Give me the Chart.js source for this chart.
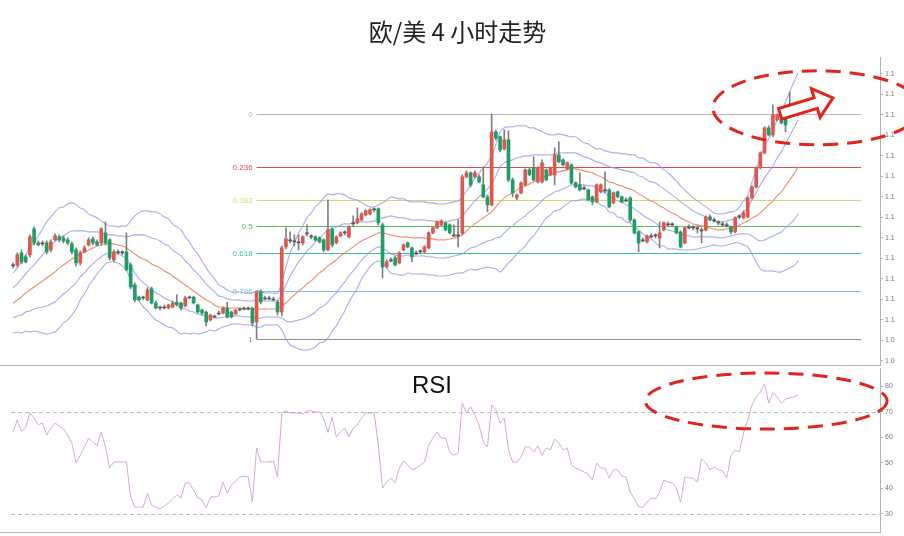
<!DOCTYPE html>
<html>
<head>
<meta charset="utf-8">
<script src="https://cdn.jsdelivr.net/npm/chart.js@4.4.1/dist/chart.umd.min.js"></script>
<style>
  html, body { margin: 0; padding: 0; background: #fff; }
  #wrap { position: relative; width: 904px; height: 536px; overflow: hidden; }
  #main { position: absolute; left: 0; top: 0; }
  #rsi { position: absolute; left: 0; top: 368px; }
</style>
</head>
<body>
<div id="wrap">
  <canvas id="main" width="904" height="368"></canvas>
  <canvas id="rsi" width="904" height="168"></canvas>
</div>
<script>
// --- data ---
const TITLE = '欧/美 4 小时走势';
const SLOT_COUNT = 207;   // 188 candles + empty room on the right

const opens = [
  1.0565,1.0566,1.0578,1.0574,1.0576,1.0602,1.0588,1.0588,1.0588,1.0581,
  1.0591,1.0594,1.0593,1.0591,1.0587,1.0581,1.0568,1.0579,1.0586,1.0592,
  1.0589,1.0588,1.0598,1.0591,1.0571,1.0579,1.0578,1.0579,1.0566,1.0546,
  1.0534,1.0534,1.0531,1.0542,1.0528,1.0523,1.0524,1.0523,1.0524,1.0529,
  1.0528,1.0525,1.0534,1.0534,1.0526,1.0521,1.0519,1.0511,1.0514,1.0518,
  1.0518,1.0523,1.0519,1.0517,1.0522,1.0523,1.0522,1.0523,1.0509,1.0539,
  1.0533,1.0532,1.0532,1.0529,1.0519,1.0584,1.0591,1.0589,1.0588,1.0588,
  1.0598,1.0594,1.0594,1.0593,1.0591,1.0581,1.0602,1.0588,1.0595,1.0598,
  1.0594,1.0607,1.0608,1.0611,1.0616,1.0617,1.0621,1.0622,1.0606,1.0564,
  1.0571,1.0573,1.0568,1.0581,1.0588,1.0583,1.0578,1.0579,1.0579,1.0583,
  1.0598,1.0603,1.0606,1.0608,1.0606,1.0596,1.0595,1.0598,1.0654,1.0658,
  1.0654,1.0654,1.0646,1.0634,1.0626,1.0699,1.0694,1.0682,1.0691,1.0651,
  1.0633,1.0638,1.0646,1.0661,1.0663,1.0649,1.0649,1.0661,1.0656,1.0656,
  1.0676,1.0671,1.0662,1.0666,1.0648,1.0646,1.0643,1.0641,1.0634,1.0629,
  1.0639,1.0640,1.0641,1.0628,1.0639,1.0634,1.0631,1.0633,1.0611,1.0599,
  1.0591,1.0589,1.0595,1.0595,1.0593,1.0601,1.0607,1.0606,1.0604,1.0599,
  1.0588,1.0604,1.0603,1.0603,1.0600,1.0601,1.0614,1.0611,1.0608,1.0607,
  1.0606,1.0604,1.0599,1.0614,1.0613,1.0614,1.0633,1.0644,1.0663,1.0678,
  1.0703,1.0696,1.0711,1.0718,1.0716,1.0714,1.0719,1.0716
];
const highs = [
  1.0568,1.0578,1.0581,1.0576,1.0596,1.0604,1.0590,1.0590,1.0590,1.0591,
  1.0597,1.0596,1.0595,1.0593,1.0589,1.0583,1.0580,1.0585,1.0593,1.0594,
  1.0591,1.0603,1.0609,1.0592,1.0581,1.0581,1.0580,1.0598,1.0568,1.0548,
  1.0535,1.0535,1.0543,1.0544,1.0530,1.0525,1.0526,1.0527,1.0530,1.0536,
  1.0529,1.0535,1.0535,1.0535,1.0527,1.0522,1.0520,1.0517,1.0516,1.0520,
  1.0524,1.0529,1.0520,1.0522,1.0523,1.0524,1.0524,1.0524,1.0540,1.0541,
  1.0535,1.0535,1.0534,1.0531,1.0585,1.0603,1.0599,1.0596,1.0596,1.0595,
  1.0606,1.0596,1.0595,1.0594,1.0592,1.0631,1.0603,1.0595,1.0599,1.0600,
  1.0605,1.0615,1.0623,1.0618,1.0621,1.0622,1.0623,1.0623,1.0608,1.0571,
  1.0573,1.0575,1.0579,1.0587,1.0589,1.0584,1.0580,1.0581,1.0585,1.0599,
  1.0604,1.0610,1.0611,1.0609,1.0607,1.0606,1.0611,1.0656,1.0660,1.0659,
  1.0660,1.0656,1.0664,1.0636,1.0717,1.0701,1.0695,1.0701,1.0700,1.0653,
  1.0637,1.0649,1.0662,1.0663,1.0674,1.0664,1.0671,1.0662,1.0664,1.0683,
  1.0689,1.0672,1.0669,1.0667,1.0649,1.0658,1.0645,1.0642,1.0635,1.0647,
  1.0647,1.0659,1.0642,1.0639,1.0640,1.0635,1.0633,1.0634,1.0612,1.0600,
  1.0593,1.0596,1.0597,1.0597,1.0609,1.0609,1.0609,1.0608,1.0605,1.0600,
  1.0604,1.0606,1.0605,1.0605,1.0603,1.0615,1.0616,1.0613,1.0610,1.0609,
  1.0608,1.0605,1.0614,1.0616,1.0620,1.0634,1.0645,1.0664,1.0679,1.0704,
  1.0705,1.0726,1.0717,1.0719,1.0717,1.0739,1.0721,1.0725
];
const lows = [
  1.0563,1.0564,1.0567,1.0568,1.0574,1.0586,1.0585,1.0585,1.0577,1.0579,
  1.0590,1.0589,1.0588,1.0586,1.0577,1.0565,1.0566,1.0578,1.0585,1.0586,
  1.0585,1.0586,1.0586,1.0571,1.0569,1.0577,1.0576,1.0560,1.0542,1.0529,
  1.0530,1.0531,1.0530,1.0527,1.0522,1.0521,1.0522,1.0522,1.0523,1.0525,
  1.0521,1.0524,1.0532,1.0527,1.0518,1.0516,1.0505,1.0510,1.0513,1.0516,
  1.0517,1.0513,1.0513,1.0516,1.0520,1.0521,1.0521,1.0505,1.0492,1.0527,
  1.0531,1.0531,1.0530,1.0516,1.0515,1.0582,1.0588,1.0585,1.0581,1.0586,
  1.0595,1.0592,1.0590,1.0588,1.0579,1.0580,1.0584,1.0587,1.0594,1.0596,
  1.0593,1.0605,1.0607,1.0610,1.0615,1.0616,1.0619,1.0606,1.0553,1.0563,
  1.0569,1.0565,1.0567,1.0580,1.0583,1.0569,1.0576,1.0577,1.0578,1.0582,
  1.0597,1.0602,1.0605,1.0600,1.0597,1.0594,1.0584,1.0596,1.0653,1.0644,
  1.0653,1.0648,1.0633,1.0619,1.0625,1.0691,1.0679,1.0681,1.0649,1.0634,
  1.0631,1.0637,1.0645,1.0655,1.0650,1.0648,1.0648,1.0650,1.0655,1.0646,
  1.0668,1.0665,1.0661,1.0647,1.0643,1.0640,1.0641,1.0630,1.0626,1.0628,
  1.0638,1.0638,1.0623,1.0627,1.0633,1.0628,1.0629,1.0609,1.0597,1.0579,
  1.0589,1.0588,1.0593,1.0593,1.0583,1.0600,1.0605,1.0604,1.0597,1.0583,
  1.0587,1.0602,1.0601,1.0598,1.0588,1.0600,1.0610,1.0609,1.0606,1.0605,
  1.0604,1.0597,1.0598,1.0612,1.0612,1.0613,1.0632,1.0643,1.0662,1.0677,
  1.0695,1.0694,1.0710,1.0707,1.0699,1.0713,1.0717,1.0715
];
const closes = [
  1.0566,1.0576,1.0569,1.0569,1.0594,1.0588,1.0586,1.0587,1.0579,1.0589,
  1.0595,1.0591,1.0590,1.0588,1.0579,1.0568,1.0578,1.0583,1.0591,1.0588,
  1.0586,1.0602,1.0588,1.0573,1.0579,1.0578,1.0579,1.0561,1.0544,1.0531,
  1.0531,1.0533,1.0541,1.0528,1.0523,1.0524,1.0523,1.0526,1.0528,1.0526,
  1.0523,1.0533,1.0533,1.0528,1.0519,1.0518,1.0509,1.0516,1.0515,1.0517,
  1.0523,1.0514,1.0514,1.0521,1.0521,1.0522,1.0523,1.0508,1.0539,1.0529,
  1.0532,1.0533,1.0531,1.0519,1.0583,1.0592,1.0590,1.0590,1.0589,1.0594,
  1.0597,1.0595,1.0591,1.0589,1.0581,1.0601,1.0586,1.0594,1.0598,1.0599,
  1.0604,1.0608,1.0612,1.0617,1.0620,1.0621,1.0622,1.0608,1.0564,1.0569,
  1.0570,1.0566,1.0578,1.0586,1.0584,1.0574,1.0577,1.0580,1.0584,1.0598,
  1.0603,1.0609,1.0610,1.0601,1.0598,1.0595,1.0596,1.0654,1.0658,1.0646,
  1.0658,1.0649,1.0634,1.0626,1.0699,1.0693,1.0681,1.0691,1.0651,1.0638,
  1.0636,1.0648,1.0661,1.0656,1.0651,1.0663,1.0668,1.0651,1.0663,1.0676,
  1.0669,1.0666,1.0668,1.0648,1.0644,1.0641,1.0642,1.0631,1.0629,1.0646,
  1.0646,1.0641,1.0624,1.0638,1.0634,1.0629,1.0630,1.0611,1.0598,1.0588,
  1.0590,1.0595,1.0594,1.0596,1.0598,1.0608,1.0606,1.0607,1.0598,1.0584,
  1.0603,1.0603,1.0604,1.0602,1.0601,1.0614,1.0611,1.0610,1.0609,1.0606,
  1.0605,1.0599,1.0613,1.0615,1.0618,1.0633,1.0644,1.0663,1.0678,1.0703,
  1.0696,1.0716,1.0716,1.0708,1.0706,1.0719,1.0720,1.0724
];

// Bollinger middle line (orange) and band step in pips
const bbMid = [
  1.0528,1.0531,1.0534,1.0538,1.0541,1.0544,1.0547,1.0550,1.0553,1.0556,
  1.0559,1.0563,1.0566,1.0569,1.0572,1.0574,1.0577,1.0579,1.0581,1.0583,
  1.0585,1.0586,1.0587,1.0587,1.0587,1.0586,1.0585,1.0583,1.0580,1.0577,
  1.0574,1.0572,1.0570,1.0567,1.0565,1.0563,1.0560,1.0558,1.0555,1.0552,
  1.0549,1.0546,1.0543,1.0540,1.0537,1.0534,1.0531,1.0529,1.0526,1.0524,
  1.0524,1.0523,1.0523,1.0523,1.0523,1.0522,1.0522,1.0522,1.0522,1.0522,
  1.0522,1.0522,1.0522,1.0522,1.0525,1.0528,1.0532,1.0536,1.0540,1.0543,
  1.0547,1.0550,1.0554,1.0558,1.0561,1.0565,1.0568,1.0571,1.0575,1.0578,
  1.0581,1.0584,1.0587,1.0590,1.0592,1.0594,1.0596,1.0598,1.0598,1.0597,
  1.0596,1.0595,1.0594,1.0594,1.0594,1.0593,1.0593,1.0593,1.0593,1.0592,
  1.0592,1.0591,1.0591,1.0591,1.0592,1.0593,1.0594,1.0596,1.0600,1.0604,
  1.0607,1.0610,1.0613,1.0616,1.0619,1.0624,1.0629,1.0633,1.0636,1.0638,
  1.0641,1.0643,1.0645,1.0647,1.0649,1.0651,1.0653,1.0655,1.0656,1.0658,
  1.0659,1.0660,1.0661,1.0662,1.0662,1.0661,1.0660,1.0659,1.0658,1.0656,
  1.0654,1.0652,1.0649,1.0648,1.0646,1.0645,1.0643,1.0642,1.0640,1.0637,
  1.0635,1.0632,1.0630,1.0628,1.0625,1.0623,1.0620,1.0618,1.0616,1.0613,
  1.0611,1.0609,1.0607,1.0606,1.0605,1.0604,1.0603,1.0602,1.0601,1.0601,
  1.0602,1.0603,1.0604,1.0606,1.0608,1.0610,1.0613,1.0615,1.0618,1.0622,
  1.0626,1.0630,1.0635,1.0639,1.0645,1.0651,1.0657,1.0664
];
const bbSigmaPips = [
  15,16,18,19,21,22,24,26,28,29,
  30,30,29,29,28,26,23,21,18,16,
  14,12,10,9,9,9,10,11,15,19,
  22,24,25,26,27,27,27,27,26,26,
  26,24,23,21,20,18,16,14,13,11,
  10,9,8,8,8,8,8,8,9,9,
  8,8,8,8,12,18,23,26,29,31,
  33,34,35,35,36,36,34,33,31,29,
  26,24,22,19,17,15,14,14,15,17,
  19,19,19,19,18,18,18,18,18,18,
  18,18,18,18,18,18,18,19,20,21,
  23,24,25,26,28,31,35,35,34,33,
  32,31,30,28,27,25,23,21,20,19,
  19,18,17,16,16,15,14,14,13,13,
  14,14,15,15,16,16,17,17,18,18,
  19,19,19,20,20,19,19,18,17,16,
  15,14,13,12,11,10,9,8,8,8,
  8,8,8,9,11,13,18,23,28,31,
  33,35,38,40,42,44,46,47
];

const rsiValues = [
  62.3,66.9,62.3,64,69.7,67.6,65,65.7,61,63.7,
  65.7,64.5,63.3,61,57.8,50,53,56.3,59.8,58.2,
  56.7,62.2,56.3,48,50.4,50.4,50.4,50.4,36.7,32.7,
  32.7,32.7,38.2,33.5,32.7,32,33.1,34.3,35.9,37.5,
  36.3,42.2,42.2,39.4,36.3,35.5,32.4,36.7,36.7,37.1,
  42.5,38.2,41.4,42.9,44.5,44.9,44.5,34.7,55.9,50.4,
  50.4,50.4,50.8,44.5,69.6,70.4,69.6,69.6,69.6,69.2,
  70.4,70.4,70,70,67.6,62,68,60.2,62.2,63.7,
  60.2,63.7,64.9,67.6,69.6,69.6,69.6,57,40.2,42.5,
  44.1,42.2,48,50.8,49.2,47.3,48,49.2,50.4,57,
  59.8,62.2,59.8,59.8,54.3,53,53.9,73.5,69.6,72,
  68.8,64.9,58.2,56.3,72.7,70.8,65.7,67.6,55.1,50.4,
  50.4,52.4,56.3,56.3,54.3,56.7,53,55.9,55.1,59.4,
  57.8,55.1,55.9,49.2,48,47.3,46.5,45.7,43.3,50,
  48,48,44.1,47.3,47.3,44.9,44.5,38.6,36,33,
  32.5,34.7,36.3,35.9,38.6,43.3,42.5,42.2,40.2,34.7,
  44.5,44.1,44.1,42.5,51.6,50,47.3,48.4,47.3,46.9,
  44.1,53,55.1,54.3,61.8,66.9,72.7,75.9,77.8,81,
  73.5,77.5,75.9,73.5,75.1,75.5,75.9,76.7
];

// fibonacci retracement of the swing
const fibHigh = 1.0717;
const fibLow = 1.0492;
const fibLevels = [0, 0.236, 0.382, 0.5, 0.618, 0.786, 1];
const fibLabels = ['0', '0.236', '0.382', '0.5', '0.618', '0.786', '1'];
const FIB_END_SLOT = 202;

// axes
const priceTicks = [1.0470, 1.04905, 1.0511, 1.05315, 1.0552, 1.05725, 1.0593, 1.06135,
                    1.0634, 1.06545, 1.0675, 1.06955, 1.0716, 1.07365, 1.0757];
const PRICE_MIN = 1.0466, PRICE_MAX = 1.0773;
const rsiTicks = [30, 40, 50, 60, 70, 80];
const rsiLevels = [70, 30];
const RSI_MIN = 22.94, RSI_MAX = 87.25;

// hand-drawn highlights (slot, value)
const priceHighlight = { center: [191.5, 1.0723], radius: [24.8, 0.0037] };
const rsiHighlight = { center: [179.4, 74.3], radius: [28.8, 11] };
const breakoutArrow = { from: [182.7, 1.0717], to: [195.3, 1.0733] };

// --- styles ---
const UP = '#e0574e', DOWN = '#1f9d66', FLAT = '#555', WICK = '#808080';
const BAND = 'rgba(150,150,235,0.8)', MID = '#f08a72';
const MARK_RED = '#e3231c';
const FIB_COLORS = ['#b8b8b8', '#e24b4b', '#d2dc6a', '#55c25a', '#35c7a0', '#72c2ee', '#8f8f8f'];
const GRID = '#b4b4b4';

Chart.defaults.font.family = '"Liberation Sans", Arial, sans-serif';
Chart.defaults.animation = false;

const slots = Array.from({ length: SLOT_COUNT }, (_, i) => String(i));
const bodies = opens.map((o, i) => [o, closes[i]]);
const wicks = lows.map((l, i) => [l, highs[i]]);
const bodyColors = opens.map((o, i) => {
  const d = closes[i] - o;
  if (Math.abs(d) < 0.00015) return FLAT;
  return d > 0 ? UP : DOWN;
});
const band = k => bbMid.map((m, i) => m + k * bbSigmaPips[i] * 0.0001);

function lineSet(data, color) {
  return { type: 'line', data, borderColor: color, borderWidth: 1.1, pointRadius: 0, tension: 0.35, fill: false, order: 3 };
}

function rightAxis(min, max, ticks, fmt) {
  return {
    position: 'right', min, max,
    afterBuildTicks: s => { s.ticks = ticks.map(v => ({ value: v })); },
    afterFit: s => { s.width = 24; s.paddingTop = 0; s.paddingBottom = 0; },
    ticks: { callback: fmt, font: { size: 7 }, color: '#777', padding: 2 },
    grid: { drawOnChartArea: false, tickLength: 3, color: GRID },
    border: { color: GRID }
  };
}

function drawEllipse(chart, spec) {
  const { ctx, scales: { x, y } } = chart;
  const cx = x.getPixelForValue(spec.center[0]);
  const cy = y.getPixelForValue(spec.center[1]);
  const rx = x.getPixelForValue(spec.center[0] + spec.radius[0]) - cx;
  const ry = cy - y.getPixelForValue(spec.center[1] + spec.radius[1]);
  ctx.save();
  ctx.strokeStyle = MARK_RED;
  ctx.lineWidth = 3;
  ctx.setLineDash([15, 9]);
  ctx.beginPath();
  ctx.ellipse(cx, cy, rx, ry, 0, 0, Math.PI * 2);
  ctx.stroke();
  ctx.restore();
}

function drawArrow(chart, spec) {
  const { ctx, scales: { x, y } } = chart;
  const tx = x.getPixelForValue(spec.from[0]), ty = y.getPixelForValue(spec.from[1]);
  const px = x.getPixelForValue(spec.to[0]), py = y.getPixelForValue(spec.to[1]);
  const len = Math.hypot(px - tx, py - ty);
  const ux = (px - tx) / len, uy = (py - ty) / len;
  const nx = -uy, ny = ux;
  const hw = 5.5, hh = 15, hl = 18;
  const bx = px - ux * hl, by = py - uy * hl;
  const pts = [
    [tx + nx * hw, ty + ny * hw], [bx + nx * hw, by + ny * hw], [bx + nx * hh, by + ny * hh],
    [px, py],
    [bx - nx * hh, by - ny * hh], [bx - nx * hw, by - ny * hw], [tx - nx * hw, ty - ny * hw]
  ];
  ctx.save();
  ctx.beginPath();
  pts.forEach((p, i) => i ? ctx.lineTo(p[0], p[1]) : ctx.moveTo(p[0], p[1]));
  ctx.closePath();
  ctx.fillStyle = '#fff';
  ctx.fill();
  ctx.strokeStyle = MARK_RED;
  ctx.lineWidth = 3;
  ctx.lineJoin = 'miter';
  ctx.stroke();
  ctx.restore();
}

// fib lines under the candles
const fibPlugin = {
  id: 'fib',
  beforeDatasetsDraw(chart) {
    const { ctx, scales: { x, y } } = chart;
    const start = lows.indexOf(Math.min(...lows));
    const x0 = x.getPixelForValue(start), x1 = x.getPixelForValue(FIB_END_SLOT);
    ctx.save();
    ctx.font = '8px "Liberation Sans", Arial, sans-serif';
    ctx.textAlign = 'right';
    ctx.textBaseline = 'middle';
    fibLevels.forEach((lv, k) => {
      const py = Math.round(y.getPixelForValue(fibHigh - lv * (fibHigh - fibLow))) + 0.5;
      ctx.strokeStyle = FIB_COLORS[k];
      ctx.lineWidth = 1.2;
      ctx.beginPath(); ctx.moveTo(x0, py); ctx.lineTo(x1, py); ctx.stroke();
      ctx.fillStyle = FIB_COLORS[k];
      ctx.fillText(fibLabels[k], x0 - 4, py);
    });
    ctx.restore();
  }
};

const panelLine = {
  id: 'panelLine',
  afterDraw(chart) {
    const { ctx, chartArea } = chart;
    const py = Math.round(chartArea.bottom) + 0.5;
    ctx.save();
    ctx.strokeStyle = GRID; ctx.lineWidth = 1;
    ctx.beginPath(); ctx.moveTo(0, py); ctx.lineTo(chartArea.right, py); ctx.stroke();
    ctx.restore();
  }
};

const priceMarkup = {
  id: 'priceMarkup',
  afterDraw(chart) {
    drawEllipse(chart, priceHighlight);
    drawArrow(chart, breakoutArrow);
  }
};

new Chart(document.getElementById('main'), {
  type: 'bar',
  data: {
    labels: slots,
    datasets: [
      { label: 'body', data: bodies, backgroundColor: bodyColors, barThickness: 3, grouped: false, borderWidth: 0, order: 0 },
      { label: 'wick', data: wicks, backgroundColor: WICK, barThickness: 1, grouped: false, borderWidth: 0, order: 1 },
      lineSet(band(2), BAND),
      lineSet(band(1), BAND),
      lineSet(bbMid, MID),
      lineSet(band(-1), BAND),
      lineSet(band(-2), BAND)
    ]
  },
  options: {
    responsive: false,
    devicePixelRatio: 1,
    events: [],
    layout: { padding: { left: 11, right: 0, top: 0, bottom: 3 } },
    scales: {
      x: { display: false, offset: true },
      y: rightAxis(PRICE_MIN, PRICE_MAX, priceTicks, v => v.toFixed(1))
    },
    plugins: {
      legend: { display: false },
      tooltip: { enabled: false },
      title: {
        display: true, text: TITLE, color: '#222',
        font: { family: '"Noto Sans CJK SC", sans-serif', size: 24, weight: 'normal' },
        padding: { top: 17, bottom: 12 }
      }
    }
  },
  plugins: [fibPlugin, panelLine, priceMarkup]
});

// --- RSI panel ---
const rsiMarkup = {
  id: 'rsiMarkup',
  beforeDatasetsDraw(chart) {
    const { ctx, chartArea, scales: { y } } = chart;
    ctx.save();
    ctx.strokeStyle = '#bdbdbd'; ctx.lineWidth = 1; ctx.setLineDash([4, 3]);
    rsiLevels.forEach(v => {
      const py = Math.round(y.getPixelForValue(v)) + 0.5;
      ctx.beginPath(); ctx.moveTo(chartArea.left, py); ctx.lineTo(chartArea.right, py); ctx.stroke();
    });
    ctx.restore();
  },
  afterDraw(chart) {
    const { ctx } = chart;
    ctx.save();
    ctx.fillStyle = '#111';
    ctx.font = '24px "Liberation Sans", Arial, sans-serif';
    ctx.textAlign = 'center';
    ctx.textBaseline = 'middle';
    ctx.fillText('RSI', 432, 18);
    ctx.restore();
    drawEllipse(chart, rsiHighlight);
  }
};

new Chart(document.getElementById('rsi'), {
  type: 'line',
  data: {
    labels: slots,
    datasets: [{ label: 'RSI', data: rsiValues, borderColor: '#d9a7da', borderWidth: 1, pointRadius: 0, tension: 0, fill: false }]
  },
  options: {
    responsive: false,
    devicePixelRatio: 1,
    events: [],
    layout: { padding: { left: 11, right: 0, top: 0, bottom: 4 } },
    scales: {
      x: { display: false, offset: true },
      y: rightAxis(RSI_MIN, RSI_MAX, rsiTicks, v => String(v))
    },
    plugins: { legend: { display: false }, tooltip: { enabled: false } }
  },
  plugins: [rsiMarkup, panelLine]
});
</script>
</body>
</html>
